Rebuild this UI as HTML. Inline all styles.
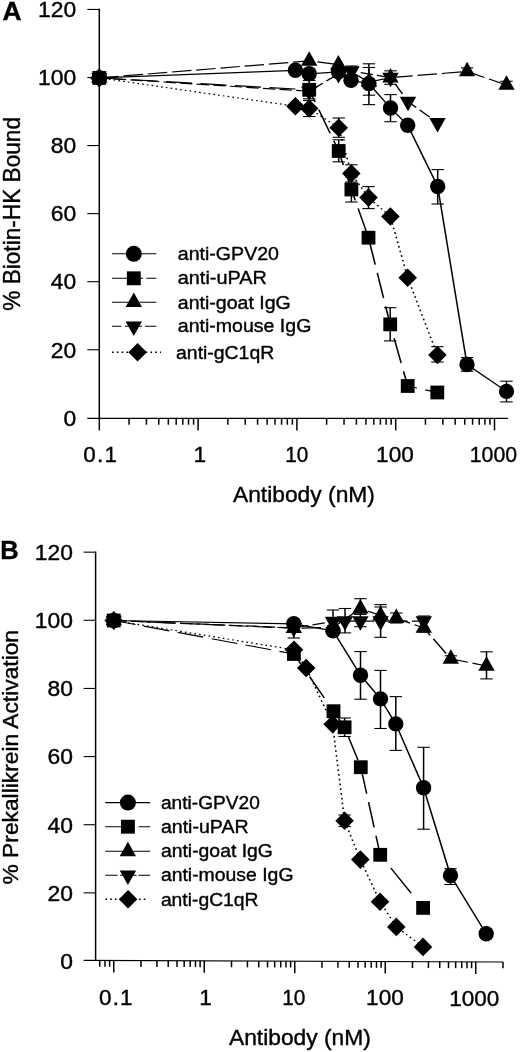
<!DOCTYPE html>
<html><head><meta charset="utf-8"><title>Figure</title>
<style>
html,body{margin:0;padding:0;background:#fff;}
svg{display:block;font-family:"Liberation Sans",sans-serif;fill:#000;}
text{stroke:#000;stroke-width:0.4px;stroke-linejoin:round;}
</style></head><body>
<svg width="520" height="1052" viewBox="0 0 520 1052">
<rect x="0" y="0" width="520" height="1052" fill="#fff"/>
<g opacity="0.999">
<line x1="99.3" y1="8.85" x2="99.3" y2="418.95" stroke="#000" stroke-width="1.5"/>
<line x1="87.3" y1="418.4" x2="508" y2="418.4" stroke="#000" stroke-width="1.1"/>
<text transform="translate(63.55,425.6) scale(1.0400,1)" font-size="22.0">0</text>
<line x1="87.3" y1="349.74" x2="99.3" y2="349.74" stroke="#000" stroke-width="1.1"/>
<text transform="translate(50.83,357.54) scale(1.0400,1)" font-size="22.0">20</text>
<line x1="87.3" y1="281.68" x2="99.3" y2="281.68" stroke="#000" stroke-width="1.1"/>
<text transform="translate(50.83,289.48) scale(1.0400,1)" font-size="22.0">40</text>
<line x1="87.3" y1="213.62" x2="99.3" y2="213.62" stroke="#000" stroke-width="1.1"/>
<text transform="translate(50.83,221.42) scale(1.0400,1)" font-size="22.0">60</text>
<line x1="87.3" y1="145.56" x2="99.3" y2="145.56" stroke="#000" stroke-width="1.1"/>
<text transform="translate(50.83,153.36) scale(1.0400,1)" font-size="22.0">80</text>
<line x1="87.3" y1="77.5" x2="99.3" y2="77.5" stroke="#000" stroke-width="1.1"/>
<text transform="translate(38.11,85.3) scale(1.0400,1)" font-size="22.0">100</text>
<line x1="87.3" y1="9.44" x2="99.3" y2="9.44" stroke="#000" stroke-width="1.1"/>
<text transform="translate(38.11,17.24) scale(1.0400,1)" font-size="22.0">120</text>
<line x1="99.3" y1="418.4" x2="99.3" y2="430.4" stroke="#000" stroke-width="1.5"/>
<line x1="129.04" y1="418.4" x2="129.04" y2="424.7" stroke="#000" stroke-width="1.5"/>
<line x1="146.44" y1="418.4" x2="146.44" y2="424.7" stroke="#000" stroke-width="1.5"/>
<line x1="158.78" y1="418.4" x2="158.78" y2="424.7" stroke="#000" stroke-width="1.5"/>
<line x1="168.36" y1="418.4" x2="168.36" y2="424.7" stroke="#000" stroke-width="1.5"/>
<line x1="176.18" y1="418.4" x2="176.18" y2="424.7" stroke="#000" stroke-width="1.5"/>
<line x1="182.8" y1="418.4" x2="182.8" y2="424.7" stroke="#000" stroke-width="1.5"/>
<line x1="188.53" y1="418.4" x2="188.53" y2="424.7" stroke="#000" stroke-width="1.5"/>
<line x1="193.58" y1="418.4" x2="193.58" y2="424.7" stroke="#000" stroke-width="1.5"/>
<line x1="198.1" y1="418.4" x2="198.1" y2="430.4" stroke="#000" stroke-width="1.5"/>
<line x1="227.84" y1="418.4" x2="227.84" y2="424.7" stroke="#000" stroke-width="1.5"/>
<line x1="245.24" y1="418.4" x2="245.24" y2="424.7" stroke="#000" stroke-width="1.5"/>
<line x1="257.58" y1="418.4" x2="257.58" y2="424.7" stroke="#000" stroke-width="1.5"/>
<line x1="267.16" y1="418.4" x2="267.16" y2="424.7" stroke="#000" stroke-width="1.5"/>
<line x1="274.98" y1="418.4" x2="274.98" y2="424.7" stroke="#000" stroke-width="1.5"/>
<line x1="281.6" y1="418.4" x2="281.6" y2="424.7" stroke="#000" stroke-width="1.5"/>
<line x1="287.33" y1="418.4" x2="287.33" y2="424.7" stroke="#000" stroke-width="1.5"/>
<line x1="292.38" y1="418.4" x2="292.38" y2="424.7" stroke="#000" stroke-width="1.5"/>
<line x1="296.9" y1="418.4" x2="296.9" y2="430.4" stroke="#000" stroke-width="1.5"/>
<line x1="326.64" y1="418.4" x2="326.64" y2="424.7" stroke="#000" stroke-width="1.5"/>
<line x1="344.04" y1="418.4" x2="344.04" y2="424.7" stroke="#000" stroke-width="1.5"/>
<line x1="356.38" y1="418.4" x2="356.38" y2="424.7" stroke="#000" stroke-width="1.5"/>
<line x1="365.96" y1="418.4" x2="365.96" y2="424.7" stroke="#000" stroke-width="1.5"/>
<line x1="373.78" y1="418.4" x2="373.78" y2="424.7" stroke="#000" stroke-width="1.5"/>
<line x1="380.4" y1="418.4" x2="380.4" y2="424.7" stroke="#000" stroke-width="1.5"/>
<line x1="386.13" y1="418.4" x2="386.13" y2="424.7" stroke="#000" stroke-width="1.5"/>
<line x1="391.18" y1="418.4" x2="391.18" y2="424.7" stroke="#000" stroke-width="1.5"/>
<line x1="395.7" y1="418.4" x2="395.7" y2="430.4" stroke="#000" stroke-width="1.5"/>
<line x1="425.44" y1="418.4" x2="425.44" y2="424.7" stroke="#000" stroke-width="1.5"/>
<line x1="442.84" y1="418.4" x2="442.84" y2="424.7" stroke="#000" stroke-width="1.5"/>
<line x1="455.18" y1="418.4" x2="455.18" y2="424.7" stroke="#000" stroke-width="1.5"/>
<line x1="464.76" y1="418.4" x2="464.76" y2="424.7" stroke="#000" stroke-width="1.5"/>
<line x1="472.58" y1="418.4" x2="472.58" y2="424.7" stroke="#000" stroke-width="1.5"/>
<line x1="479.2" y1="418.4" x2="479.2" y2="424.7" stroke="#000" stroke-width="1.5"/>
<line x1="484.93" y1="418.4" x2="484.93" y2="424.7" stroke="#000" stroke-width="1.5"/>
<line x1="489.98" y1="418.4" x2="489.98" y2="424.7" stroke="#000" stroke-width="1.5"/>
<line x1="494.5" y1="418.4" x2="494.5" y2="430.4" stroke="#000" stroke-width="1.5"/>
<text transform="translate(2.57,19.8) scale(1.0536,1)" font-size="25" font-weight="bold">A</text>
<text transform="translate(20.3,310.79) rotate(-90) scale(0.9851,1)" font-size="23">% Biotin-HK Bound</text>
<text transform="translate(232.95,501.6) scale(1.0009,1)" font-size="22.8">Antibody (nM)</text>
<text transform="translate(83.3,461.8) scale(1.0200,1)" font-size="22.0" letter-spacing="1.27">0.1</text>
<text transform="translate(193.48,461.8) scale(1.0311,1)" font-size="22.0">1</text>
<text transform="translate(285.22,461.8) scale(0.9428,1)" font-size="22.0">10</text>
<text transform="translate(376.08,461.8) scale(1.0267,1)" font-size="22.0">100</text>
<text transform="translate(469.78,461.8) scale(0.9673,1)" font-size="22.0">1000</text>
<line x1="309.2" y1="80.5" x2="309.2" y2="98.8" stroke="#000" stroke-width="1.5"/>
<line x1="303" y1="80.5" x2="315.4" y2="80.5" stroke="#000" stroke-width="1.1"/>
<line x1="303" y1="98.8" x2="315.4" y2="98.8" stroke="#000" stroke-width="1.1"/>
<line x1="309.2" y1="100.5" x2="309.2" y2="116.5" stroke="#000" stroke-width="1.5"/>
<line x1="303" y1="100.5" x2="315.4" y2="100.5" stroke="#000" stroke-width="1.1"/>
<line x1="303" y1="116.5" x2="315.4" y2="116.5" stroke="#000" stroke-width="1.1"/>
<line x1="338.7" y1="118" x2="338.7" y2="137.3" stroke="#000" stroke-width="1.5"/>
<line x1="332.5" y1="118" x2="344.9" y2="118" stroke="#000" stroke-width="1.1"/>
<line x1="332.5" y1="137.3" x2="344.9" y2="137.3" stroke="#000" stroke-width="1.1"/>
<line x1="338.7" y1="139.8" x2="338.7" y2="161.8" stroke="#000" stroke-width="1.5"/>
<line x1="332.5" y1="139.8" x2="344.9" y2="139.8" stroke="#000" stroke-width="1.1"/>
<line x1="332.5" y1="161.8" x2="344.9" y2="161.8" stroke="#000" stroke-width="1.1"/>
<line x1="351.3" y1="164.8" x2="351.3" y2="182" stroke="#000" stroke-width="1.5"/>
<line x1="345.1" y1="164.8" x2="357.5" y2="164.8" stroke="#000" stroke-width="1.1"/>
<line x1="345.1" y1="182" x2="357.5" y2="182" stroke="#000" stroke-width="1.1"/>
<line x1="351.4" y1="177" x2="351.4" y2="202" stroke="#000" stroke-width="1.5"/>
<line x1="345.2" y1="177" x2="357.6" y2="177" stroke="#000" stroke-width="1.1"/>
<line x1="345.2" y1="202" x2="357.6" y2="202" stroke="#000" stroke-width="1.1"/>
<line x1="368.5" y1="186.6" x2="368.5" y2="208.6" stroke="#000" stroke-width="1.5"/>
<line x1="362.3" y1="186.6" x2="374.7" y2="186.6" stroke="#000" stroke-width="1.1"/>
<line x1="362.3" y1="208.6" x2="374.7" y2="208.6" stroke="#000" stroke-width="1.1"/>
<line x1="368.9" y1="63.8" x2="368.9" y2="104.6" stroke="#000" stroke-width="1.5"/>
<line x1="362.7" y1="63.8" x2="375.1" y2="63.8" stroke="#000" stroke-width="1.1"/>
<line x1="362.7" y1="104.6" x2="375.1" y2="104.6" stroke="#000" stroke-width="1.1"/>
<line x1="369" y1="67.5" x2="369" y2="95.2" stroke="#000" stroke-width="1.5"/>
<line x1="362.8" y1="67.5" x2="375.2" y2="67.5" stroke="#000" stroke-width="1.1"/>
<line x1="362.8" y1="95.2" x2="375.2" y2="95.2" stroke="#000" stroke-width="1.1"/>
<line x1="390.5" y1="94.6" x2="390.5" y2="121.7" stroke="#000" stroke-width="1.5"/>
<line x1="384.3" y1="94.6" x2="396.7" y2="94.6" stroke="#000" stroke-width="1.1"/>
<line x1="384.3" y1="121.7" x2="396.7" y2="121.7" stroke="#000" stroke-width="1.1"/>
<line x1="390.5" y1="70.8" x2="390.5" y2="84.3" stroke="#000" stroke-width="1.5"/>
<line x1="384.3" y1="70.8" x2="396.7" y2="70.8" stroke="#000" stroke-width="1.1"/>
<line x1="384.3" y1="84.3" x2="396.7" y2="84.3" stroke="#000" stroke-width="1.1"/>
<line x1="437.7" y1="169.6" x2="437.7" y2="204" stroke="#000" stroke-width="1.5"/>
<line x1="431.5" y1="169.6" x2="443.9" y2="169.6" stroke="#000" stroke-width="1.1"/>
<line x1="431.5" y1="204" x2="443.9" y2="204" stroke="#000" stroke-width="1.1"/>
<line x1="390.2" y1="307.7" x2="390.2" y2="340.9" stroke="#000" stroke-width="1.5"/>
<line x1="384" y1="307.7" x2="396.4" y2="307.7" stroke="#000" stroke-width="1.1"/>
<line x1="384" y1="340.9" x2="396.4" y2="340.9" stroke="#000" stroke-width="1.1"/>
<line x1="437.4" y1="346.7" x2="437.4" y2="362" stroke="#000" stroke-width="1.5"/>
<line x1="431.2" y1="346.7" x2="443.6" y2="346.7" stroke="#000" stroke-width="1.1"/>
<line x1="431.2" y1="362" x2="443.6" y2="362" stroke="#000" stroke-width="1.1"/>
<line x1="467" y1="357.5" x2="467" y2="371.2" stroke="#000" stroke-width="1.5"/>
<line x1="460.8" y1="357.5" x2="473.2" y2="357.5" stroke="#000" stroke-width="1.1"/>
<line x1="460.8" y1="371.2" x2="473.2" y2="371.2" stroke="#000" stroke-width="1.1"/>
<line x1="506.5" y1="381.2" x2="506.5" y2="401.9" stroke="#000" stroke-width="1.5"/>
<line x1="500.3" y1="381.2" x2="512.7" y2="381.2" stroke="#000" stroke-width="1.1"/>
<line x1="500.3" y1="401.9" x2="512.7" y2="401.9" stroke="#000" stroke-width="1.1"/>
<line x1="467.1" y1="67.9" x2="467.1" y2="75" stroke="#000" stroke-width="1.5"/>
<line x1="460.9" y1="67.9" x2="473.3" y2="67.9" stroke="#000" stroke-width="1.1"/>
<line x1="460.9" y1="75" x2="473.3" y2="75" stroke="#000" stroke-width="1.1"/>
<line x1="506.5" y1="81.3" x2="506.5" y2="88.5" stroke="#000" stroke-width="1.5"/>
<line x1="500.3" y1="81.3" x2="512.7" y2="81.3" stroke="#000" stroke-width="1.1"/>
<line x1="500.3" y1="88.5" x2="512.7" y2="88.5" stroke="#000" stroke-width="1.1"/>
<line x1="351.5" y1="66" x2="351.5" y2="76" stroke="#000" stroke-width="1.5"/>
<line x1="345.3" y1="66" x2="357.7" y2="66" stroke="#000" stroke-width="1.1"/>
<line x1="345.3" y1="76" x2="357.7" y2="76" stroke="#000" stroke-width="1.1"/>
<path transform="scale(1.3,1)" d="M76.38 77.9 L227.23 70.3 L237.85 73.8 L260.38 71.8 L270 80.3 L283.77 83.6 L300.38 108 L313.62 125.2 L336.69 186.5 L359.23 364.5 L389.62 391.4" fill="none" stroke="#000" stroke-width="1.2" stroke-linejoin="round"/>
<path transform="scale(1.3,1)" d="M76.38 77.9L94.82 79.26M101.34 79.74L121.31 81.21M127.84 81.69L147.81 83.16M154.34 83.65L174.3 85.12M180.83 85.6L200.8 87.07M207.33 87.55L227.3 89.02M233.82 89.5L237.85 89.8L242.42 102.14M245.26 109.8L253.95 133.22M256.78 140.88L260.54 151L264.1 165.02M266.14 173.09L270.31 189.5L273.29 200.43M275.48 208.44L282.16 232.95M283.78 239.35L288.64 264.57M290.22 272.82L295.08 298.04M296.67 306.28L300.15 324.4L301.35 329.88M303.14 338.06L308.6 363.07M310.39 371.25L313.62 386L320.75 388.04M327.14 389.86L336.38 392.5" fill="none" stroke="#000" stroke-width="1.2" stroke-linejoin="round"/>
<path transform="scale(1.3,1)" d="M76.38 77.9L91.34 76.33M95.02 75.94L109.97 74.36M113.65 73.98L128.6 72.4M132.28 72.02L147.23 70.44M150.91 70.05L165.86 68.48M169.54 68.09L184.49 66.52M188.17 66.13L203.12 64.56M206.8 64.17L221.75 62.59M225.44 62.21L237.85 60.9L240.37 61.32M244.04 61.92L258.92 64.37M260.31 64.6L267.13 69.64M270.34 72.01L283.38 81.65M283.85 82L298.54 78.09M302.53 77.38L317.48 75.83M321.16 75.45L336.12 73.9M339.8 73.52L354.75 71.97M358.43 71.59L359.31 71.5L372.67 77.45M376.16 79.01L389.62 85" fill="none" stroke="#000" stroke-width="1.2" stroke-linejoin="round"/>
<path transform="scale(1.3,1)" d="M76.38 77.9L84.29 78.56M87.59 78.83L97.03 79.61M100.34 79.89L109.78 80.67M113.08 80.95L122.52 81.73M125.82 82L135.26 82.79M138.57 83.06L148.01 83.84M151.31 84.12L160.75 84.9M164.05 85.18L173.49 85.96M176.8 86.23L186.24 87.02M189.54 87.29L198.98 88.07M202.28 88.35L211.72 89.13M215.03 89.41L224.47 90.19M227.77 90.46L237.21 91.25M240.14 89.52L248.26 83.21M251.1 81.01L259.23 74.7M262.3 73.26L270.38 71L274.18 71.83M277.44 72.55L286.77 74.6M290.03 75.32L299.36 77.37M300.38 77.6L302.06 80.59M304.01 84.06L309.58 94M311.53 97.48L313.85 101.6L320.16 107.49M322.84 110L330.52 117.18M333.21 119.69L336.54 122.8" fill="none" stroke="#000" stroke-width="1.2" stroke-linejoin="round"/>
<path transform="scale(1.3,1)" d="M76.38 77.9L77.68 78.14M80.04 78.59L81.33 78.83M83.69 79.27L84.99 79.51M87.35 79.96L88.64 80.2M91 80.64L92.3 80.89M94.66 81.33L95.95 81.57M98.31 82.01L99.61 82.26M101.97 82.7L103.26 82.94M105.62 83.38L106.91 83.63M109.27 84.07L110.57 84.31M112.93 84.76L114.22 85M116.58 85.44L117.88 85.68M120.24 86.13L121.53 86.37M123.89 86.81L125.19 87.06M127.55 87.5L128.84 87.74M131.2 88.18L132.5 88.43M134.86 88.87L136.15 89.11M138.51 89.56L139.8 89.8M142.16 90.24L143.46 90.48M145.82 90.93L147.11 91.17M149.47 91.61L150.77 91.85M153.13 92.3L154.42 92.54M156.78 92.98L158.08 93.23M160.44 93.67L161.73 93.91M164.09 94.35L165.39 94.6M167.75 95.04L169.04 95.28M171.4 95.73L172.69 95.97M175.05 96.41L176.35 96.65M178.71 97.1L180 97.34M182.36 97.78L183.66 98.03M186.02 98.47L187.31 98.71M189.67 99.15L190.97 99.4M193.33 99.84L194.62 100.08M196.98 100.52L198.28 100.77M200.64 101.21L201.93 101.45M204.29 101.9L205.58 102.14M207.94 102.58L209.24 102.82M211.6 103.27L212.89 103.51M215.25 103.95L216.55 104.2M218.91 104.64L220.2 104.88M222.56 105.32L223.86 105.57M226.22 106.01L227.23 106.2L227.51 106.26M229.86 106.77L231.15 107.05M233.5 107.56L234.79 107.84M237.15 108.35L237.85 108.5L238.35 108.92M240.35 110.62L241.44 111.54M243.44 113.23L244.54 114.16M246.54 115.85L247.63 116.78M249.63 118.47L250.73 119.4M252.72 121.09L253.82 122.02M255.82 123.71L256.92 124.63M258.91 126.33L260.01 127.25M261 129.9L261.35 131.54M261.98 134.53L262.33 136.17M262.96 139.15L263.31 140.79M263.94 143.78L264.29 145.42M264.92 148.41L265.27 150.05M265.9 153.04L266.25 154.68M266.88 157.67L267.23 159.31M267.86 162.29L268.21 163.93M268.84 166.92L269.19 168.56M269.82 171.55L270.17 173.19M271.47 175.76L272.23 177.15M273.62 179.67L274.38 181.05M275.76 183.58L276.52 184.96M277.91 187.48L278.67 188.87M280.05 191.39L280.81 192.77M282.2 195.3L282.96 196.68M284.61 198.89L285.6 200M287.4 202.02L288.39 203.13M290.2 205.16L291.19 206.27M292.99 208.3L293.98 209.41M295.79 211.43L296.78 212.54M298.59 214.57L299.58 215.68M300.69 218.27L301.05 219.91M301.7 222.89L302.05 224.53M302.7 227.51L303.05 229.15M303.7 232.13L304.06 233.77M304.7 236.75L305.06 238.39M305.71 241.37L306.06 243.01M306.71 245.99L307.07 247.63M307.71 250.61L308.07 252.25M308.72 255.23L309.07 256.87M309.72 259.85L310.07 261.49M310.72 264.47L311.08 266.1M311.72 269.09L312.08 270.72M312.73 273.71L313.08 275.34M313.77 278.31L314.24 279.9M315.09 282.79L315.56 284.38M316.42 287.27L316.89 288.86M317.74 291.75L318.21 293.34M319.07 296.23L319.54 297.82M320.4 300.71L320.87 302.3M321.72 305.19L322.19 306.78M323.05 309.67L323.52 311.26M324.37 314.15L324.84 315.74M325.7 318.63L326.17 320.22M327.02 323.11L327.49 324.7M328.35 327.59L328.82 329.18M329.68 332.07L330.15 333.66M331 336.55L331.47 338.14M332.33 341.03L332.8 342.62M333.65 345.51L334.12 347.1M334.98 349.99L335.45 351.58M336.3 354.47L336.46 355" fill="none" stroke="#000" stroke-width="1.2" stroke-linejoin="round"/>
<path d="M99.3 68.23L107.5 82.73L91.1 82.73Z"/>
<path d="M309.2 51.23L317.4 65.73L301 65.73Z"/>
<path d="M338.4 54.93L346.6 69.43L330.2 69.43Z"/>
<path d="M369 72.33L377.2 86.83L360.8 86.83Z"/>
<path d="M390.5 67.93L398.7 82.43L382.3 82.43Z"/>
<path d="M467.1 61.83L475.3 76.33L458.9 76.33Z"/>
<path d="M506.5 75.33L514.7 89.83L498.3 89.83Z"/>
<path d="M99.3 87.57L107.5 73.07L91.1 73.07Z"/>
<path d="M309.2 100.97L317.4 86.47L301 86.47Z"/>
<path d="M338.5 83.47L346.7 68.97L330.3 68.97Z"/>
<path d="M351.5 80.67L359.7 66.17L343.3 66.17Z"/>
<path d="M390.5 87.27L398.7 72.77L382.3 72.77Z"/>
<path d="M408 111.27L416.2 96.77L399.8 96.77Z"/>
<path d="M437.5 132.47L445.7 117.97L429.3 117.97Z"/>
<rect x="92.4" y="71" width="13.8" height="13.8"/>
<rect x="302.3" y="82.9" width="13.8" height="13.8"/>
<rect x="331.8" y="144.1" width="13.8" height="13.8"/>
<rect x="344.5" y="182.6" width="13.8" height="13.8"/>
<rect x="361.6" y="230.8" width="13.8" height="13.8"/>
<rect x="383.3" y="317.5" width="13.8" height="13.8"/>
<rect x="400.8" y="379.1" width="13.8" height="13.8"/>
<rect x="430.4" y="385.6" width="13.8" height="13.8"/>
<path d="M99.3 68.6L108.6 77.9L99.3 87.2L90 77.9Z"/>
<path d="M295.4 96.9L304.7 106.2L295.4 115.5L286.1 106.2Z"/>
<path d="M309.2 99.2L318.5 108.5L309.2 117.8L299.9 108.5Z"/>
<path d="M338.7 118.4L348 127.7L338.7 137L329.4 127.7Z"/>
<path d="M351.3 164.2L360.6 173.5L351.3 182.8L342 173.5Z"/>
<path d="M368.5 188.3L377.8 197.6L368.5 206.9L359.2 197.6Z"/>
<path d="M390.4 207.2L399.7 216.5L390.4 225.8L381.1 216.5Z"/>
<path d="M407.7 268.5L417 277.8L407.7 287.1L398.4 277.8Z"/>
<path d="M437.4 345.7L446.7 355L437.4 364.3L428.1 355Z"/>
<circle cx="99.3" cy="77.9" r="7.7"/>
<circle cx="295.4" cy="70.3" r="7.7"/>
<circle cx="309.2" cy="73.8" r="7.7"/>
<circle cx="338.5" cy="71.8" r="7.7"/>
<circle cx="351" cy="80.3" r="7.7"/>
<circle cx="368.9" cy="83.6" r="7.7"/>
<circle cx="390.5" cy="108" r="7.7"/>
<circle cx="407.7" cy="125.2" r="7.7"/>
<circle cx="437.7" cy="186.5" r="7.7"/>
<circle cx="467" cy="364.5" r="7.7"/>
<circle cx="506.5" cy="391.4" r="7.7"/>
<line x1="112" y1="253.8" x2="156.3" y2="253.8" stroke="#000" stroke-width="1.1"/>
<circle cx="133.8" cy="253.8" r="8.0"/>
<text transform="translate(177.78,260.2) scale(1.0311,1)" font-size="19">anti-GPV20</text>
<line x1="112" y1="278.3" x2="156.3" y2="278.3" stroke="#000" stroke-width="1.1" stroke-dasharray="31 3.3 10 50"/>
<rect x="126.85" y="271.35" width="13.9" height="13.9"/>
<text transform="translate(177.76,284.3) scale(1.0466,1)" font-size="19">anti-uPAR</text>
<line x1="112" y1="302.2" x2="156.3" y2="302.2" stroke="#000" stroke-width="1.1"/>
<path d="M133.8 292.53L142 307.03L125.6 307.03Z"/>
<text transform="translate(177.78,308.5) scale(1.0294,1)" font-size="19">anti-goat IgG</text>
<line x1="112" y1="326.3" x2="156.3" y2="326.3" stroke="#000" stroke-width="1.1" stroke-dasharray="9.3 3.7 17 3 11.3 50"/>
<path d="M133.8 335.97L142 321.47L125.6 321.47Z"/>
<text transform="translate(177.78,332.2) scale(1.0290,1)" font-size="19">anti-mouse IgG</text>
<line x1="112" y1="352.3" x2="161" y2="352.3" stroke="#000" stroke-width="1.5" stroke-dasharray="1.7 3.1"/>
<path d="M137.6 343L146.9 352.3L137.6 361.6L128.3 352.3Z"/>
<text transform="translate(176.08,359.4) scale(1.0219,1)" font-size="19">anti-gC1qR</text>
<line x1="95.6" y1="551.45" x2="95.6" y2="961" stroke="#000" stroke-width="1.5"/>
<line x1="83.6" y1="960.4" x2="503.2" y2="962.04" stroke="#000" stroke-width="1.1"/>
<text transform="translate(60.15,968.8) scale(1.0400,1)" font-size="22.0">0</text>
<line x1="83.6" y1="892.86" x2="95.6" y2="892.86" stroke="#000" stroke-width="1.1"/>
<text transform="translate(47.43,900.66) scale(1.0400,1)" font-size="22.0">20</text>
<line x1="83.6" y1="824.72" x2="95.6" y2="824.72" stroke="#000" stroke-width="1.1"/>
<text transform="translate(47.43,832.52) scale(1.0400,1)" font-size="22.0">40</text>
<line x1="83.6" y1="756.58" x2="95.6" y2="756.58" stroke="#000" stroke-width="1.1"/>
<text transform="translate(47.43,764.38) scale(1.0400,1)" font-size="22.0">60</text>
<line x1="83.6" y1="688.44" x2="95.6" y2="688.44" stroke="#000" stroke-width="1.1"/>
<text transform="translate(47.43,696.24) scale(1.0400,1)" font-size="22.0">80</text>
<line x1="83.6" y1="620.3" x2="95.6" y2="620.3" stroke="#000" stroke-width="1.1"/>
<text transform="translate(34.71,628.1) scale(1.0400,1)" font-size="22.0">100</text>
<line x1="83.6" y1="552.16" x2="95.6" y2="552.16" stroke="#000" stroke-width="1.1"/>
<text transform="translate(34.71,559.96) scale(1.0400,1)" font-size="22.0">120</text>
<line x1="113.75" y1="960.52" x2="113.75" y2="972.52" stroke="#000" stroke-width="1.5"/>
<line x1="140.99" y1="960.63" x2="140.99" y2="966.93" stroke="#000" stroke-width="1.5"/>
<line x1="156.93" y1="960.69" x2="156.93" y2="966.99" stroke="#000" stroke-width="1.5"/>
<line x1="168.24" y1="960.73" x2="168.24" y2="967.03" stroke="#000" stroke-width="1.5"/>
<line x1="177.01" y1="960.77" x2="177.01" y2="967.07" stroke="#000" stroke-width="1.5"/>
<line x1="184.17" y1="960.8" x2="184.17" y2="967.1" stroke="#000" stroke-width="1.5"/>
<line x1="190.23" y1="960.82" x2="190.23" y2="967.12" stroke="#000" stroke-width="1.5"/>
<line x1="195.48" y1="960.84" x2="195.48" y2="967.14" stroke="#000" stroke-width="1.5"/>
<line x1="200.11" y1="960.86" x2="200.11" y2="967.16" stroke="#000" stroke-width="1.5"/>
<line x1="204.25" y1="960.87" x2="204.25" y2="972.87" stroke="#000" stroke-width="1.5"/>
<line x1="231.49" y1="960.98" x2="231.49" y2="967.28" stroke="#000" stroke-width="1.5"/>
<line x1="247.43" y1="961.04" x2="247.43" y2="967.34" stroke="#000" stroke-width="1.5"/>
<line x1="258.74" y1="961.09" x2="258.74" y2="967.39" stroke="#000" stroke-width="1.5"/>
<line x1="267.51" y1="961.12" x2="267.51" y2="967.42" stroke="#000" stroke-width="1.5"/>
<line x1="274.67" y1="961.15" x2="274.67" y2="967.45" stroke="#000" stroke-width="1.5"/>
<line x1="280.73" y1="961.17" x2="280.73" y2="967.47" stroke="#000" stroke-width="1.5"/>
<line x1="285.98" y1="961.19" x2="285.98" y2="967.49" stroke="#000" stroke-width="1.5"/>
<line x1="290.61" y1="961.21" x2="290.61" y2="967.51" stroke="#000" stroke-width="1.5"/>
<line x1="294.75" y1="961.23" x2="294.75" y2="973.23" stroke="#000" stroke-width="1.5"/>
<line x1="321.99" y1="961.33" x2="321.99" y2="967.63" stroke="#000" stroke-width="1.5"/>
<line x1="337.93" y1="961.4" x2="337.93" y2="967.7" stroke="#000" stroke-width="1.5"/>
<line x1="349.24" y1="961.44" x2="349.24" y2="967.74" stroke="#000" stroke-width="1.5"/>
<line x1="358.01" y1="961.47" x2="358.01" y2="967.77" stroke="#000" stroke-width="1.5"/>
<line x1="365.17" y1="961.5" x2="365.17" y2="967.8" stroke="#000" stroke-width="1.5"/>
<line x1="371.23" y1="961.52" x2="371.23" y2="967.82" stroke="#000" stroke-width="1.5"/>
<line x1="376.48" y1="961.55" x2="376.48" y2="967.85" stroke="#000" stroke-width="1.5"/>
<line x1="381.11" y1="961.56" x2="381.11" y2="967.86" stroke="#000" stroke-width="1.5"/>
<line x1="385.25" y1="961.58" x2="385.25" y2="973.58" stroke="#000" stroke-width="1.5"/>
<line x1="412.49" y1="961.69" x2="412.49" y2="967.99" stroke="#000" stroke-width="1.5"/>
<line x1="428.43" y1="961.75" x2="428.43" y2="968.05" stroke="#000" stroke-width="1.5"/>
<line x1="439.74" y1="961.79" x2="439.74" y2="968.09" stroke="#000" stroke-width="1.5"/>
<line x1="448.51" y1="961.83" x2="448.51" y2="968.13" stroke="#000" stroke-width="1.5"/>
<line x1="455.67" y1="961.85" x2="455.67" y2="968.15" stroke="#000" stroke-width="1.5"/>
<line x1="461.73" y1="961.88" x2="461.73" y2="968.18" stroke="#000" stroke-width="1.5"/>
<line x1="466.98" y1="961.9" x2="466.98" y2="968.2" stroke="#000" stroke-width="1.5"/>
<line x1="471.61" y1="961.92" x2="471.61" y2="968.22" stroke="#000" stroke-width="1.5"/>
<line x1="475.75" y1="961.93" x2="475.75" y2="973.93" stroke="#000" stroke-width="1.5"/>
<line x1="502.99" y1="962.04" x2="502.99" y2="968.34" stroke="#000" stroke-width="1.5"/>
<line x1="99.73" y1="960.47" x2="99.73" y2="966.77" stroke="#000" stroke-width="1.5"/>
<line x1="104.98" y1="960.49" x2="104.98" y2="966.79" stroke="#000" stroke-width="1.5"/>
<line x1="109.61" y1="960.5" x2="109.61" y2="966.8" stroke="#000" stroke-width="1.5"/>
<text transform="translate(0.21,558.5) scale(1.0213,1)" font-size="25" font-weight="bold">B</text>
<text transform="translate(18,884.5) rotate(-90) scale(1.0087,1)" font-size="22.6">% Prekallikrein Activation</text>
<text transform="translate(228.95,1044.8) scale(1.0135,1)" font-size="22.5">Antibody (nM)</text>
<text transform="translate(99,1004.9) scale(1.0200,1)" font-size="22.0" letter-spacing="1.18">0.1</text>
<text transform="translate(199.18,1005.15) scale(1.0311,1)" font-size="22.0">1</text>
<text transform="translate(282.22,1005.28) scale(0.9473,1)" font-size="22.0">10</text>
<text transform="translate(366.08,1005.4) scale(1.0267,1)" font-size="22.0">100</text>
<text transform="translate(449.19,1005.53) scale(1.0233,1)" font-size="22.0">1000</text>
<line x1="293.8" y1="626" x2="293.8" y2="638" stroke="#000" stroke-width="1.5"/>
<line x1="287.6" y1="626" x2="300" y2="626" stroke="#000" stroke-width="1.1"/>
<line x1="287.6" y1="638" x2="300" y2="638" stroke="#000" stroke-width="1.1"/>
<line x1="333" y1="610" x2="333" y2="632" stroke="#000" stroke-width="1.5"/>
<line x1="326.8" y1="610" x2="339.2" y2="610" stroke="#000" stroke-width="1.1"/>
<line x1="326.8" y1="632" x2="339.2" y2="632" stroke="#000" stroke-width="1.1"/>
<line x1="345" y1="608.5" x2="345" y2="632.9" stroke="#000" stroke-width="1.5"/>
<line x1="338.8" y1="608.5" x2="351.2" y2="608.5" stroke="#000" stroke-width="1.1"/>
<line x1="338.8" y1="632.9" x2="351.2" y2="632.9" stroke="#000" stroke-width="1.1"/>
<line x1="360.4" y1="598.7" x2="360.4" y2="614.2" stroke="#000" stroke-width="1.5"/>
<line x1="354.2" y1="598.7" x2="366.6" y2="598.7" stroke="#000" stroke-width="1.1"/>
<line x1="354.2" y1="614.2" x2="366.6" y2="614.2" stroke="#000" stroke-width="1.1"/>
<line x1="360.4" y1="614.2" x2="360.4" y2="626.7" stroke="#000" stroke-width="1.5"/>
<line x1="354.2" y1="614.2" x2="366.6" y2="614.2" stroke="#000" stroke-width="1.1"/>
<line x1="354.2" y1="626.7" x2="366.6" y2="626.7" stroke="#000" stroke-width="1.1"/>
<line x1="380.6" y1="604.6" x2="380.6" y2="637.3" stroke="#000" stroke-width="1.5"/>
<line x1="374.4" y1="604.6" x2="386.8" y2="604.6" stroke="#000" stroke-width="1.1"/>
<line x1="374.4" y1="637.3" x2="386.8" y2="637.3" stroke="#000" stroke-width="1.1"/>
<line x1="380.6" y1="607" x2="380.6" y2="620" stroke="#000" stroke-width="1.5"/>
<line x1="374.4" y1="607" x2="386.8" y2="607" stroke="#000" stroke-width="1.1"/>
<line x1="374.4" y1="620" x2="386.8" y2="620" stroke="#000" stroke-width="1.1"/>
<line x1="396.3" y1="613" x2="396.3" y2="623" stroke="#000" stroke-width="1.5"/>
<line x1="390.1" y1="613" x2="402.5" y2="613" stroke="#000" stroke-width="1.1"/>
<line x1="390.1" y1="623" x2="402.5" y2="623" stroke="#000" stroke-width="1.1"/>
<line x1="360.5" y1="651.6" x2="360.5" y2="699.2" stroke="#000" stroke-width="1.5"/>
<line x1="354.3" y1="651.6" x2="366.7" y2="651.6" stroke="#000" stroke-width="1.1"/>
<line x1="354.3" y1="699.2" x2="366.7" y2="699.2" stroke="#000" stroke-width="1.1"/>
<line x1="380.5" y1="670.4" x2="380.5" y2="728.5" stroke="#000" stroke-width="1.5"/>
<line x1="374.3" y1="670.4" x2="386.7" y2="670.4" stroke="#000" stroke-width="1.1"/>
<line x1="374.3" y1="728.5" x2="386.7" y2="728.5" stroke="#000" stroke-width="1.1"/>
<line x1="395.8" y1="696.6" x2="395.8" y2="750.4" stroke="#000" stroke-width="1.5"/>
<line x1="389.6" y1="696.6" x2="402" y2="696.6" stroke="#000" stroke-width="1.1"/>
<line x1="389.6" y1="750.4" x2="402" y2="750.4" stroke="#000" stroke-width="1.1"/>
<line x1="423.6" y1="747.3" x2="423.6" y2="829.2" stroke="#000" stroke-width="1.5"/>
<line x1="417.4" y1="747.3" x2="429.8" y2="747.3" stroke="#000" stroke-width="1.1"/>
<line x1="417.4" y1="829.2" x2="429.8" y2="829.2" stroke="#000" stroke-width="1.1"/>
<line x1="450.5" y1="868.7" x2="450.5" y2="884.5" stroke="#000" stroke-width="1.5"/>
<line x1="444.3" y1="868.7" x2="456.7" y2="868.7" stroke="#000" stroke-width="1.1"/>
<line x1="444.3" y1="884.5" x2="456.7" y2="884.5" stroke="#000" stroke-width="1.1"/>
<line x1="344.6" y1="718" x2="344.6" y2="736.5" stroke="#000" stroke-width="1.5"/>
<line x1="338.4" y1="718" x2="350.8" y2="718" stroke="#000" stroke-width="1.1"/>
<line x1="338.4" y1="736.5" x2="350.8" y2="736.5" stroke="#000" stroke-width="1.1"/>
<line x1="344.6" y1="815" x2="344.6" y2="826.5" stroke="#000" stroke-width="1.5"/>
<line x1="338.4" y1="815" x2="350.8" y2="815" stroke="#000" stroke-width="1.1"/>
<line x1="338.4" y1="826.5" x2="350.8" y2="826.5" stroke="#000" stroke-width="1.1"/>
<line x1="450.8" y1="655.8" x2="450.8" y2="662" stroke="#000" stroke-width="1.5"/>
<line x1="444.6" y1="655.8" x2="457" y2="655.8" stroke="#000" stroke-width="1.1"/>
<line x1="444.6" y1="662" x2="457" y2="662" stroke="#000" stroke-width="1.1"/>
<line x1="486.5" y1="651.8" x2="486.5" y2="678.9" stroke="#000" stroke-width="1.5"/>
<line x1="480.3" y1="651.8" x2="492.7" y2="651.8" stroke="#000" stroke-width="1.1"/>
<line x1="480.3" y1="678.9" x2="492.7" y2="678.9" stroke="#000" stroke-width="1.1"/>
<line x1="423.8" y1="616" x2="423.8" y2="632" stroke="#000" stroke-width="1.5"/>
<line x1="417.6" y1="616" x2="430" y2="616" stroke="#000" stroke-width="1.1"/>
<line x1="417.6" y1="632" x2="430" y2="632" stroke="#000" stroke-width="1.1"/>
<path transform="scale(1.3,1)" d="M87.5 620.5 L226 623.8 L256.15 630.8 L277.31 675.2 L292.69 698.9 L304.46 723.9 L325.85 787.8 L346.54 875.5 L374 933.7" fill="none" stroke="#000" stroke-width="1.2" stroke-linejoin="round"/>
<path transform="scale(1.3,1)" d="M87.5 620.5L104.21 624.54M110.64 626.09L130.3 630.85M136.73 632.4L156.4 637.16M162.82 638.71L182.49 643.46M188.92 645.02L208.58 649.77M215.01 651.32L226.08 654L234.4 669.62M238.12 676.61L249.5 697.99M253.22 704.98L256.54 711.2L264.59 726.37M265.08 727.3L265.37 728.23M267.83 736.1L275.35 760.19M277.74 768.37L282.06 793.76M283.48 802.06L287.8 827.44M289.21 835.74L292.46 854.8M300.63 867.95L316.25 893.07" fill="none" stroke="#000" stroke-width="1.2" stroke-linejoin="round"/>
<path transform="scale(1.3,1)" d="M87.5 620.5L97.49 621.06M101.18 621.26L116.17 622.09M119.86 622.3L134.84 623.13M138.53 623.34L153.52 624.17M157.21 624.38L172.19 625.21M175.88 625.41L190.87 626.25M194.56 626.45L209.54 627.29M213.23 627.49L226 628.2L228.22 628.15M231.91 628.06L246.91 627.71M250.6 627.63L256.15 627.5L263.93 620.53M266.97 617.8L277.23 608.6L279.63 609.65M283.13 611.18L292.77 615.4L297.52 616.5M301.16 617.35L304.85 618.2L315.45 623.11M318.93 624.72L326 628L330.94 635.32M333.37 638.93L343.26 653.6M345.69 657.2L346.77 658.8L359.87 662.24M363.49 663.18L374.23 666" fill="none" stroke="#000" stroke-width="1.2" stroke-linejoin="round"/>
<path transform="scale(1.3,1)" d="M87.5 620.5L96.95 621.01M100.26 621.18L109.71 621.69M113.02 621.86L122.47 622.37M125.78 622.55L135.23 623.05M138.53 623.23L147.99 623.73M151.29 623.91L160.75 624.41M164.05 624.59L173.5 625.1M176.81 625.27L186.26 625.78M189.57 625.95L199.02 626.46M202.33 626.64L211.78 627.14M215.08 627.32L224.54 627.82M227.82 627.51L237.16 625.53M240.42 624.84L249.76 622.86M253.03 622.16L256.15 621.5L262.44 621.3M265.75 621.2L275.21 621.2M278.52 621.2L287.98 621.2M291.29 621.2L292.77 621.2L300.75 621.2M304.06 621.2L313.52 621.2M316.83 621.2L326 621.2" fill="none" stroke="#000" stroke-width="1.2" stroke-linejoin="round"/>
<path transform="scale(1.3,1)" d="M87.5 620.5L88.79 620.77M91.14 621.27L92.44 621.54M94.79 622.04L96.08 622.31M98.43 622.81L99.72 623.08M102.08 623.58L103.37 623.85M105.72 624.35L107.01 624.62M109.37 625.12L110.66 625.39M113.01 625.89L114.3 626.16M116.66 626.66L117.95 626.93M120.3 627.43L121.59 627.7M123.94 628.2L125.24 628.47M127.59 628.97L128.88 629.24M131.23 629.74L132.52 630.01M134.88 630.51L136.17 630.78M138.52 631.28L139.81 631.55M142.17 632.05L143.46 632.32M145.81 632.82L147.1 633.1M149.46 633.59L150.75 633.87M153.1 634.36L154.39 634.64M156.74 635.13L158.04 635.41M160.39 635.9L161.68 636.18M164.03 636.67L165.32 636.95M167.68 637.44L168.97 637.72M171.32 638.21L172.61 638.49M174.97 638.98L176.26 639.26M178.61 639.75L179.9 640.03M182.26 640.52L183.55 640.8M185.9 641.29L187.19 641.57M189.55 642.06L190.84 642.34M193.19 642.83L194.48 643.11M196.83 643.6L198.12 643.88M200.48 644.37L201.77 644.65M204.12 645.14L205.41 645.42M207.77 645.91L209.06 646.19M211.41 646.68L212.7 646.96M215.06 647.45L216.35 647.73M218.7 648.23L219.99 648.5M222.35 649L223.64 649.27M225.99 649.77L226.15 649.8L226.79 651.03M228.12 653.61L228.85 655.02M230.17 657.59L230.9 659.01M232.23 661.58L232.96 662.99M234.28 665.57L235.01 666.98M236.15 669.7L236.71 671.24M237.72 674.04L238.27 675.58M239.29 678.39L239.84 679.93M240.85 682.73L241.41 684.27M242.42 687.08L242.98 688.62M243.99 691.43L244.54 692.96M245.56 695.77L246.11 697.31M247.12 700.12L247.68 701.66M248.69 704.46L249.25 706M250.26 708.81L250.81 710.35M251.83 713.16L252.38 714.69M253.39 717.5L253.95 719.04M254.96 721.85L255.52 723.39M256.04 726.38L256.21 728.06M256.5 731.14L256.66 732.83M256.96 735.9L257.12 737.59M257.41 740.66L257.57 742.35M257.87 745.43L258.03 747.12M258.32 750.19L258.48 751.88M258.78 754.95L258.94 756.64M259.23 759.72L259.4 761.41M259.69 764.48L259.85 766.17M260.15 769.24L260.31 770.93M260.6 774.01L260.76 775.7M261.06 778.77L261.22 780.46M261.51 783.53L261.67 785.22M261.97 788.3L262.13 789.99M262.42 793.06L262.58 794.75M262.88 797.82L263.04 799.51M263.33 802.59L263.5 804.28M263.79 807.35L263.95 809.04M264.25 812.11L264.41 813.8M264.7 816.88L264.86 818.56M265.32 821.59L265.81 823.16M266.71 826.04L267.2 827.61M268.09 830.48L268.58 832.06M269.48 834.93L269.97 836.51M270.86 839.38L271.35 840.96M272.25 843.83L272.74 845.41M273.63 848.28L274.12 849.86M275.02 852.73L275.51 854.31M276.4 857.18L276.89 858.76M277.87 861.59L278.42 863.12M279.43 865.93L279.99 867.47M281 870.28L281.55 871.82M282.56 874.63L283.12 876.17M284.13 878.98L284.68 880.52M285.69 883.32L286.25 884.86M287.26 887.67L287.81 889.21M288.82 892.02L289.38 893.56M290.39 896.37L290.94 897.91M291.95 900.71L292.31 901.7L292.56 902.21M293.86 904.82L294.57 906.24M295.86 908.85L296.57 910.27M297.87 912.88L298.58 914.3M299.87 916.91L300.58 918.33M301.88 920.94L302.59 922.36M303.88 924.97L304.59 926.39M306.38 928.4L307.43 929.42M309.34 931.28L310.39 932.29M312.29 934.15L313.34 935.17M315.25 937.03L316.3 938.05M318.2 939.91L319.25 940.93M321.16 942.79L322.21 943.81M324.12 945.66L325.16 946.68" fill="none" stroke="#000" stroke-width="1.2" stroke-linejoin="round"/>
<path d="M113.75 610.83L121.95 625.33L105.55 625.33Z"/>
<path d="M293.8 618.53L302 633.03L285.6 633.03Z"/>
<path d="M333 617.83L341.2 632.33L324.8 632.33Z"/>
<path d="M360.4 598.93L368.6 613.43L352.2 613.43Z"/>
<path d="M380.6 605.73L388.8 620.23L372.4 620.23Z"/>
<path d="M396.3 608.53L404.5 623.03L388.1 623.03Z"/>
<path d="M423.8 618.33L432 632.83L415.6 632.83Z"/>
<path d="M450.8 649.13L459 663.63L442.6 663.63Z"/>
<path d="M486.5 656.33L494.7 670.83L478.3 670.83Z"/>
<path d="M113.75 630.17L121.95 615.67L105.55 615.67Z"/>
<path d="M293.8 637.57L302 623.07L285.6 623.07Z"/>
<path d="M333 631.17L341.2 616.67L324.8 616.67Z"/>
<path d="M345 630.87L353.2 616.37L336.8 616.37Z"/>
<path d="M360.4 630.87L368.6 616.37L352.2 616.37Z"/>
<path d="M380.6 630.87L388.8 616.37L372.4 616.37Z"/>
<path d="M423.8 630.87L432 616.37L415.6 616.37Z"/>
<rect x="106.85" y="613.6" width="13.8" height="13.8"/>
<rect x="287" y="647.1" width="13.8" height="13.8"/>
<rect x="326.6" y="704.3" width="13.8" height="13.8"/>
<rect x="337.7" y="720.4" width="13.8" height="13.8"/>
<rect x="353.9" y="760.3" width="13.8" height="13.8"/>
<rect x="373.3" y="847.9" width="13.8" height="13.8"/>
<rect x="416.2" y="901" width="13.8" height="13.8"/>
<path d="M113.75 611.2L123.05 620.5L113.75 629.8L104.45 620.5Z"/>
<path d="M294 640.5L303.3 649.8L294 659.1L284.7 649.8Z"/>
<path d="M306.2 658.7L315.5 668L306.2 677.3L296.9 668Z"/>
<path d="M332.6 715L341.9 724.3L332.6 733.6L323.3 724.3Z"/>
<path d="M344.6 811.5L353.9 820.8L344.6 830.1L335.3 820.8Z"/>
<path d="M360.3 850.3L369.6 859.6L360.3 868.9L351 859.6Z"/>
<path d="M380 892.4L389.3 901.7L380 911L370.7 901.7Z"/>
<path d="M396.3 917.6L405.6 926.9L396.3 936.2L387 926.9Z"/>
<path d="M423 937.6L432.3 946.9L423 956.2L413.7 946.9Z"/>
<circle cx="113.75" cy="620.5" r="7.7"/>
<circle cx="293.8" cy="623.8" r="7.7"/>
<circle cx="333" cy="630.8" r="7.7"/>
<circle cx="360.5" cy="675.2" r="7.7"/>
<circle cx="380.5" cy="698.9" r="7.7"/>
<circle cx="395.8" cy="723.9" r="7.7"/>
<circle cx="423.6" cy="787.8" r="7.7"/>
<circle cx="450.5" cy="875.5" r="7.7"/>
<circle cx="486.2" cy="933.7" r="7.7"/>
<line x1="105.3" y1="802.6" x2="150.2" y2="802.6" stroke="#000" stroke-width="1.1"/>
<circle cx="127.9" cy="802.6" r="8.0"/>
<text transform="translate(160.9,809.2) scale(1.0084,1)" font-size="19">anti-GPV20</text>
<line x1="105.3" y1="826.7" x2="150.2" y2="826.7" stroke="#000" stroke-width="1.1" stroke-dasharray="29.7 3.5 12 50"/>
<rect x="120.95" y="819.75" width="13.9" height="13.9"/>
<text transform="translate(160.88,832.9) scale(1.0311,1)" font-size="19">anti-uPAR</text>
<line x1="105.3" y1="851.3" x2="150.2" y2="851.3" stroke="#000" stroke-width="1.1"/>
<path d="M127.9 841.63L136.1 856.13L119.7 856.13Z"/>
<text transform="translate(160.89,856.9) scale(1.0201,1)" font-size="19">anti-goat IgG</text>
<line x1="105.3" y1="875.3" x2="150.2" y2="875.3" stroke="#000" stroke-width="1.1" stroke-dasharray="12.3 2.5 16.5 1.8 12 50"/>
<path d="M127.9 884.97L136.1 870.47L119.7 870.47Z"/>
<text transform="translate(160.88,880.9) scale(1.0219,1)" font-size="19">anti-mouse IgG</text>
<line x1="105.3" y1="899.3" x2="148" y2="899.3" stroke="#000" stroke-width="1.5" stroke-dasharray="1.7 3.1"/>
<path d="M128.1 890L137.4 899.3L128.1 908.6L118.8 899.3Z"/>
<text transform="translate(160.89,905.5) scale(1.0166,1)" font-size="19">anti-gC1qR</text>
</g>
</svg>
</body></html>
